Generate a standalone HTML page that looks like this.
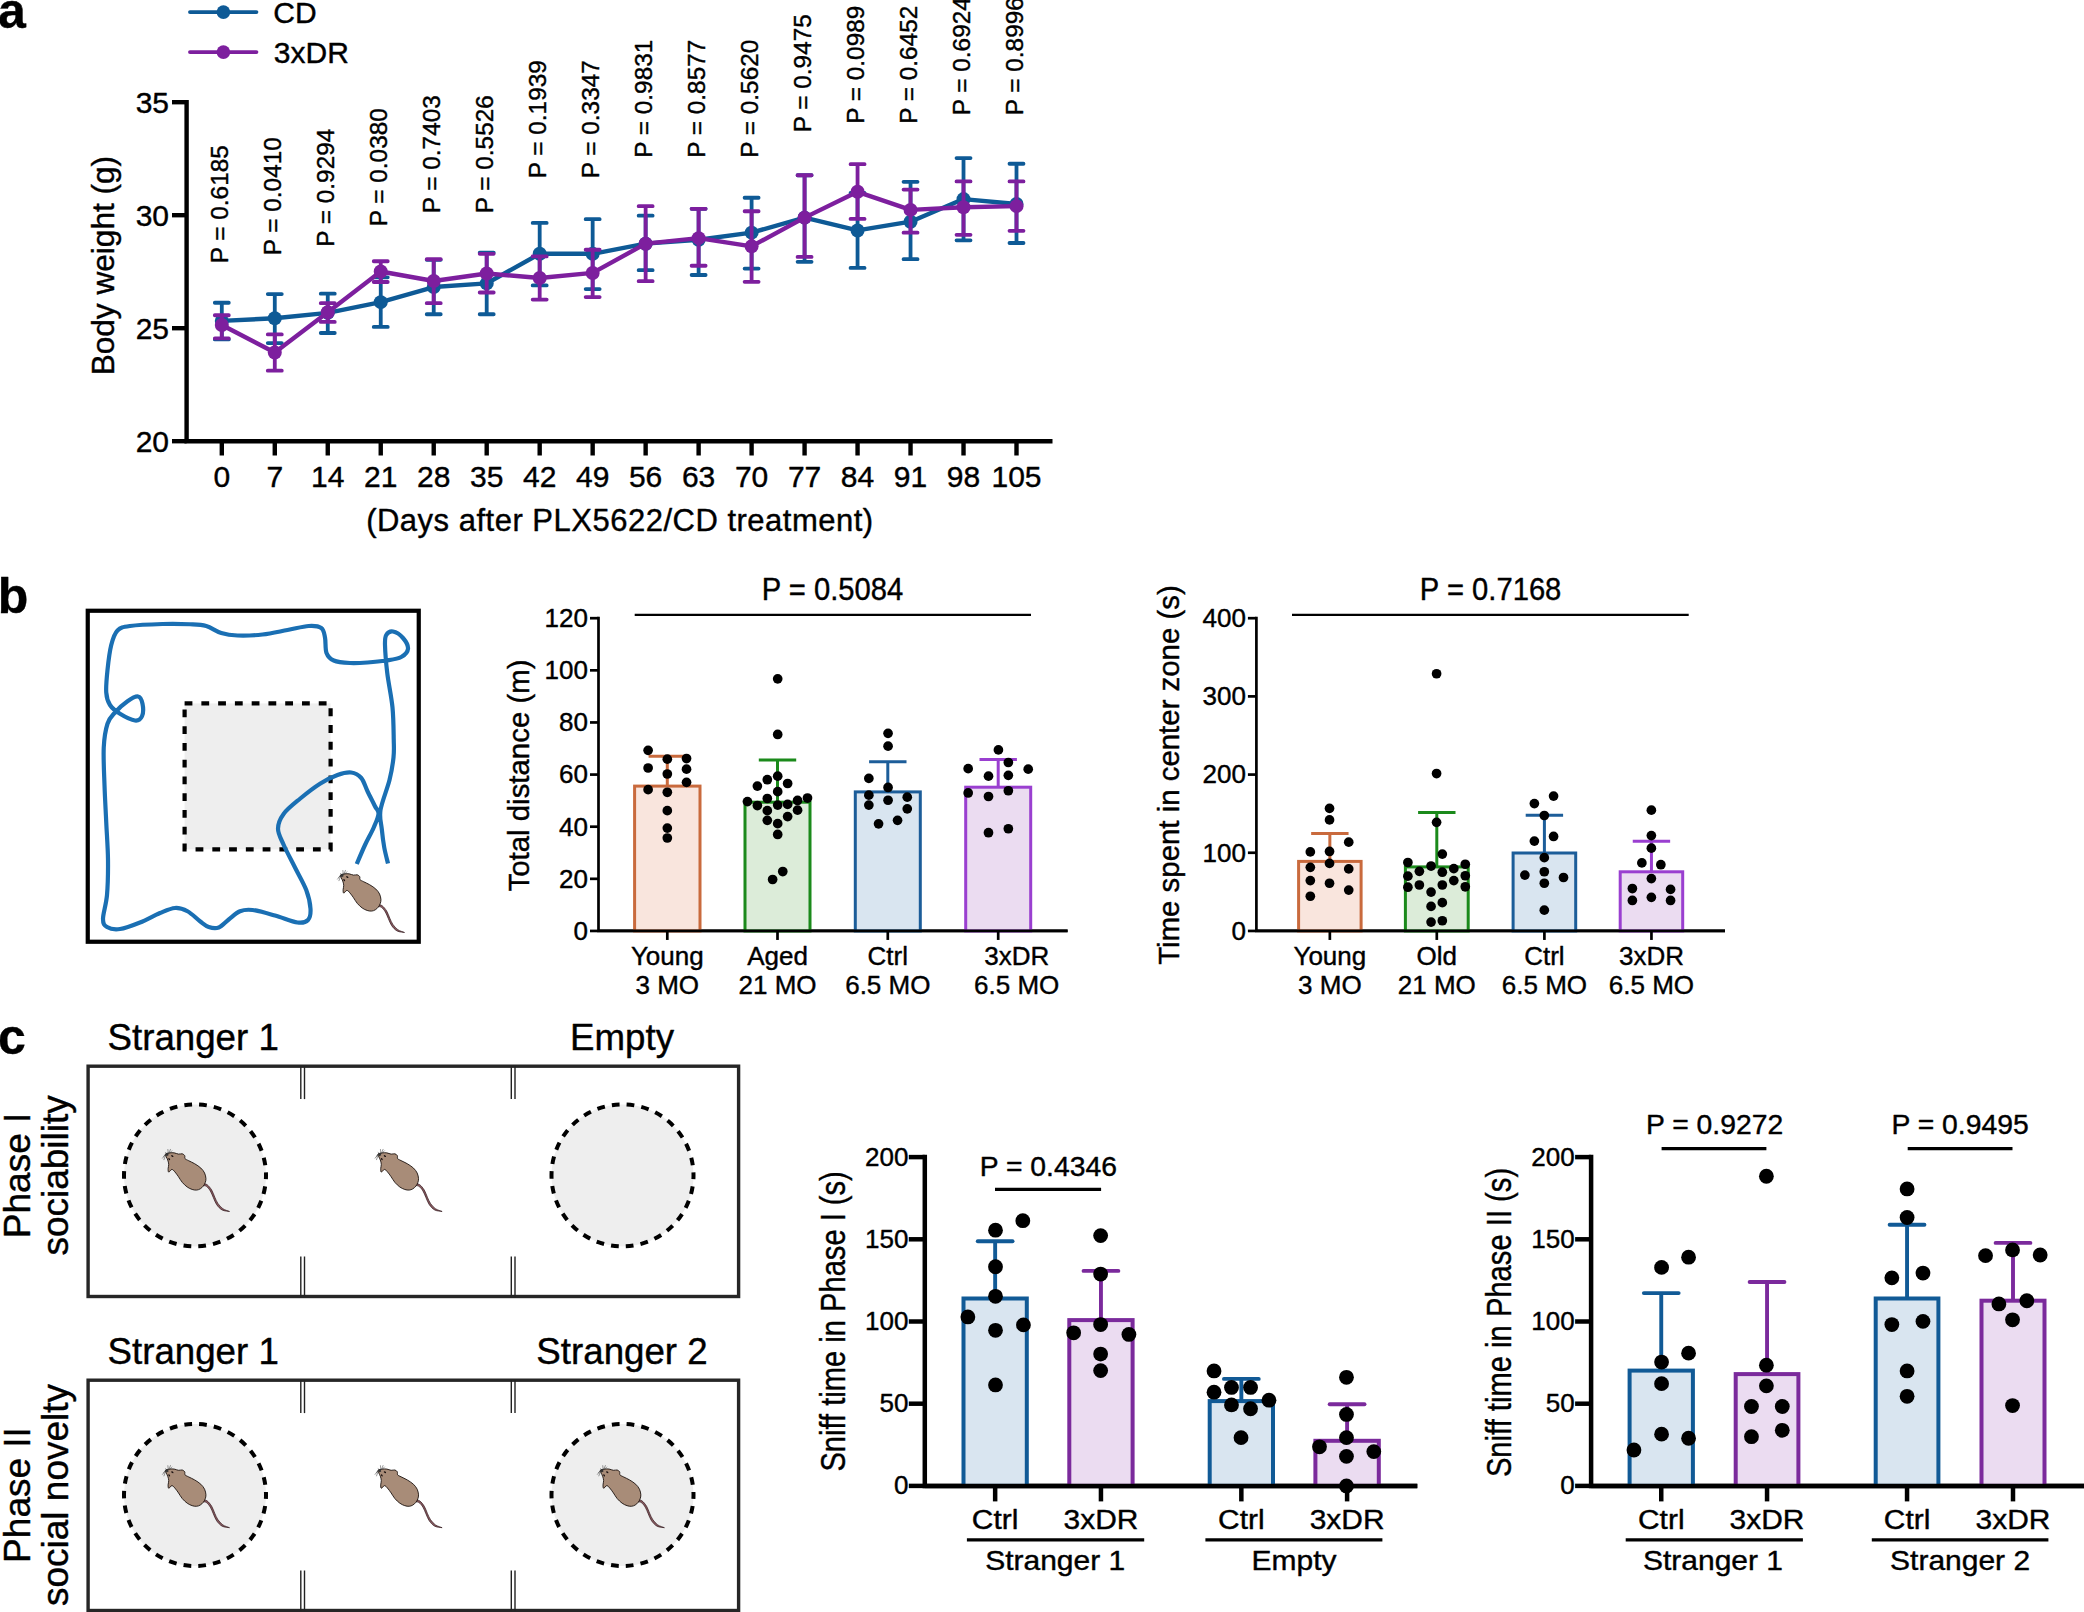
<!DOCTYPE html>
<html lang="en"><head><meta charset="utf-8"><title>Figure</title>
<style>html,body{margin:0;padding:0;background:#fff;}svg{display:block;}text{font-family:"Liberation Sans",sans-serif;stroke:#000;stroke-width:0.4px;stroke-linejoin:round;}</style>
</head><body>
<svg width="2084" height="1612" viewBox="0 0 2084 1612">
<rect x="0" y="0" width="2084" height="1612" fill="#ffffff"/>
<text x="-2.10" y="27.80" font-size="50" text-anchor="start" font-weight="bold" fill="#000">a</text>
<text x="-2.20" y="613.20" font-size="50" text-anchor="start" font-weight="bold" fill="#000">b</text>
<text x="-2.00" y="1054.40" font-size="50" text-anchor="start" font-weight="bold" fill="#000">c</text>
<path d="M186.60 100.00 V441.20 H1052.5" fill="none" stroke="#000" stroke-width="4.4" stroke-linejoin="miter"/>
<line x1="172.00" y1="102.20" x2="186.60" y2="102.20" stroke="#000" stroke-width="4.4" stroke-linecap="butt"/>
<text x="169.00" y="112.70" font-size="30" text-anchor="end" fill="#000">35</text>
<line x1="172.00" y1="215.20" x2="186.60" y2="215.20" stroke="#000" stroke-width="4.4" stroke-linecap="butt"/>
<text x="169.00" y="225.70" font-size="30" text-anchor="end" fill="#000">30</text>
<line x1="172.00" y1="328.20" x2="186.60" y2="328.20" stroke="#000" stroke-width="4.4" stroke-linecap="butt"/>
<text x="169.00" y="338.70" font-size="30" text-anchor="end" fill="#000">25</text>
<line x1="172.00" y1="441.20" x2="186.60" y2="441.20" stroke="#000" stroke-width="4.4" stroke-linecap="butt"/>
<text x="169.00" y="451.70" font-size="30" text-anchor="end" fill="#000">20</text>
<line x1="221.80" y1="441.20" x2="221.80" y2="455.50" stroke="#000" stroke-width="4.4" stroke-linecap="butt"/>
<text x="221.80" y="487.20" font-size="30" text-anchor="middle" fill="#000">0</text>
<line x1="274.78" y1="441.20" x2="274.78" y2="455.50" stroke="#000" stroke-width="4.4" stroke-linecap="butt"/>
<text x="274.78" y="487.20" font-size="30" text-anchor="middle" fill="#000">7</text>
<line x1="327.76" y1="441.20" x2="327.76" y2="455.50" stroke="#000" stroke-width="4.4" stroke-linecap="butt"/>
<text x="327.76" y="487.20" font-size="30" text-anchor="middle" fill="#000">14</text>
<line x1="380.74" y1="441.20" x2="380.74" y2="455.50" stroke="#000" stroke-width="4.4" stroke-linecap="butt"/>
<text x="380.74" y="487.20" font-size="30" text-anchor="middle" fill="#000">21</text>
<line x1="433.72" y1="441.20" x2="433.72" y2="455.50" stroke="#000" stroke-width="4.4" stroke-linecap="butt"/>
<text x="433.72" y="487.20" font-size="30" text-anchor="middle" fill="#000">28</text>
<line x1="486.70" y1="441.20" x2="486.70" y2="455.50" stroke="#000" stroke-width="4.4" stroke-linecap="butt"/>
<text x="486.70" y="487.20" font-size="30" text-anchor="middle" fill="#000">35</text>
<line x1="539.68" y1="441.20" x2="539.68" y2="455.50" stroke="#000" stroke-width="4.4" stroke-linecap="butt"/>
<text x="539.68" y="487.20" font-size="30" text-anchor="middle" fill="#000">42</text>
<line x1="592.66" y1="441.20" x2="592.66" y2="455.50" stroke="#000" stroke-width="4.4" stroke-linecap="butt"/>
<text x="592.66" y="487.20" font-size="30" text-anchor="middle" fill="#000">49</text>
<line x1="645.64" y1="441.20" x2="645.64" y2="455.50" stroke="#000" stroke-width="4.4" stroke-linecap="butt"/>
<text x="645.64" y="487.20" font-size="30" text-anchor="middle" fill="#000">56</text>
<line x1="698.62" y1="441.20" x2="698.62" y2="455.50" stroke="#000" stroke-width="4.4" stroke-linecap="butt"/>
<text x="698.62" y="487.20" font-size="30" text-anchor="middle" fill="#000">63</text>
<line x1="751.60" y1="441.20" x2="751.60" y2="455.50" stroke="#000" stroke-width="4.4" stroke-linecap="butt"/>
<text x="751.60" y="487.20" font-size="30" text-anchor="middle" fill="#000">70</text>
<line x1="804.58" y1="441.20" x2="804.58" y2="455.50" stroke="#000" stroke-width="4.4" stroke-linecap="butt"/>
<text x="804.58" y="487.20" font-size="30" text-anchor="middle" fill="#000">77</text>
<line x1="857.56" y1="441.20" x2="857.56" y2="455.50" stroke="#000" stroke-width="4.4" stroke-linecap="butt"/>
<text x="857.56" y="487.20" font-size="30" text-anchor="middle" fill="#000">84</text>
<line x1="910.54" y1="441.20" x2="910.54" y2="455.50" stroke="#000" stroke-width="4.4" stroke-linecap="butt"/>
<text x="910.54" y="487.20" font-size="30" text-anchor="middle" fill="#000">91</text>
<line x1="963.52" y1="441.20" x2="963.52" y2="455.50" stroke="#000" stroke-width="4.4" stroke-linecap="butt"/>
<text x="963.52" y="487.20" font-size="30" text-anchor="middle" fill="#000">98</text>
<line x1="1016.50" y1="441.20" x2="1016.50" y2="455.50" stroke="#000" stroke-width="4.4" stroke-linecap="butt"/>
<text x="1016.50" y="487.20" font-size="30" text-anchor="middle" fill="#000">105</text>
<text x="619.90" y="531.30" font-size="31" text-anchor="middle" fill="#000" letter-spacing="0.5">(Days after PLX5622/CD treatment)</text>
<text x="114.50" y="265.60" font-size="31.6" text-anchor="middle" fill="#000" transform="rotate(-90 114.50 265.60)">Body weight (g)</text>
<line x1="190.00" y1="12.10" x2="256.40" y2="12.10" stroke="#0e5a96" stroke-width="3.9" stroke-linecap="round"/>
<circle cx="223.40" cy="12.10" r="6.8" fill="#0e5a96"/>
<line x1="190.00" y1="52.10" x2="256.40" y2="52.10" stroke="#7d1f9e" stroke-width="3.9" stroke-linecap="round"/>
<circle cx="223.40" cy="52.10" r="6.8" fill="#7d1f9e"/>
<text x="273.30" y="22.90" font-size="30" text-anchor="start" fill="#000">CD</text>
<text x="273.80" y="63.40" font-size="30" text-anchor="start" fill="#000">3xDR</text>
<path d="M221.80 302.76V339.44M214.80 302.76h14M214.80 339.44h14M274.78 294.10V343.07M267.78 294.10h14M267.78 343.07h14M327.76 293.69V332.99M320.76 293.69h14M320.76 332.99h14M380.74 277.37V326.94M373.74 277.37h14M373.74 326.94h14M433.72 259.83V314.25M426.72 259.83h14M426.72 314.25h14M486.70 252.58V314.25M479.70 252.58h14M479.70 314.25h14M539.68 222.95V285.43M532.68 222.95h14M532.68 285.43h14M592.66 219.13V289.06M585.66 219.13h14M585.66 289.06h14M645.64 215.64V270.16M638.64 215.64h14M638.64 270.16h14M698.62 208.80V275.02M691.62 208.80h14M691.62 275.02h14M751.60 197.76V268.62M744.60 197.76h14M744.60 268.62h14M804.58 175.25V261.78M797.58 175.25h14M797.58 261.78h14M857.56 192.91V267.96M850.56 192.91h14M850.56 267.96h14M910.54 181.87V259.13M903.54 181.87h14M903.54 259.13h14M963.52 158.03V240.37M956.52 158.03h14M956.52 240.37h14M1016.50 163.77V243.01M1009.50 163.77h14M1009.50 243.01h14" fill="none" stroke="#0e5a96" stroke-width="3.8" stroke-linecap="round"/>
<polyline points="221.80,320.90 274.78,318.28 327.76,312.84 380.74,302.16 433.72,287.04 486.70,283.41 539.68,253.79 592.66,253.79 645.64,243.68 698.62,239.70 751.60,232.64 804.58,217.63 857.56,230.43 910.54,221.69 963.52,199.09 1016.50,203.94" fill="none" stroke="#0e5a96" stroke-width="4.4" stroke-linejoin="round"/>
<circle cx="221.80" cy="320.90" r="7" fill="#0e5a96"/>
<circle cx="274.78" cy="318.28" r="7" fill="#0e5a96"/>
<circle cx="327.76" cy="312.84" r="7" fill="#0e5a96"/>
<circle cx="380.74" cy="302.16" r="7" fill="#0e5a96"/>
<circle cx="433.72" cy="287.04" r="7" fill="#0e5a96"/>
<circle cx="486.70" cy="283.41" r="7" fill="#0e5a96"/>
<circle cx="539.68" cy="253.79" r="7" fill="#0e5a96"/>
<circle cx="592.66" cy="253.79" r="7" fill="#0e5a96"/>
<circle cx="645.64" cy="243.68" r="7" fill="#0e5a96"/>
<circle cx="698.62" cy="239.70" r="7" fill="#0e5a96"/>
<circle cx="751.60" cy="232.64" r="7" fill="#0e5a96"/>
<circle cx="804.58" cy="217.63" r="7" fill="#0e5a96"/>
<circle cx="857.56" cy="230.43" r="7" fill="#0e5a96"/>
<circle cx="910.54" cy="221.69" r="7" fill="#0e5a96"/>
<circle cx="963.52" cy="199.09" r="7" fill="#0e5a96"/>
<circle cx="1016.50" cy="203.94" r="7" fill="#0e5a96"/>
<path d="M221.80 315.26V338.43M214.80 315.26h14M214.80 338.43h14M274.78 334.40V370.68M267.78 334.40h14M267.78 370.68h14M327.76 303.16V321.91M320.76 303.16h14M320.76 321.91h14M380.74 261.25V282.00M373.74 261.25h14M373.74 282.00h14M433.72 259.23V303.16M426.72 259.23h14M426.72 303.16h14M486.70 253.79V292.48M479.70 253.79h14M479.70 292.48h14M539.68 256.41V299.54M532.68 256.41h14M532.68 299.54h14M592.66 249.76V297.12M585.66 249.76h14M585.66 297.12h14M645.64 206.15V281.20M638.64 206.15h14M638.64 281.20h14M698.62 208.80V265.75M691.62 208.80h14M691.62 265.75h14M751.60 211.23V281.86M744.60 211.23h14M744.60 281.86h14M804.58 175.25V256.92M797.58 175.25h14M797.58 256.92h14M857.56 164.21V218.95M850.56 164.21h14M850.56 218.95h14M910.54 189.60V232.64M903.54 189.60h14M903.54 232.64h14M963.52 181.43V234.85M956.52 181.43h14M956.52 234.85h14M1016.50 181.43V230.87M1009.50 181.43h14M1009.50 230.87h14" fill="none" stroke="#7d1f9e" stroke-width="3.8" stroke-linecap="round"/>
<polyline points="221.80,324.93 274.78,352.54 327.76,312.23 380.74,271.52 433.72,281.00 486.70,273.54 539.68,277.97 592.66,272.93 645.64,243.68 698.62,238.16 751.60,246.33 804.58,217.63 857.56,191.80 910.54,209.90 963.52,207.26 1016.50,206.15" fill="none" stroke="#7d1f9e" stroke-width="4.4" stroke-linejoin="round"/>
<circle cx="221.80" cy="324.93" r="7" fill="#7d1f9e"/>
<circle cx="274.78" cy="352.54" r="7" fill="#7d1f9e"/>
<circle cx="327.76" cy="312.23" r="7" fill="#7d1f9e"/>
<circle cx="380.74" cy="271.52" r="7" fill="#7d1f9e"/>
<circle cx="433.72" cy="281.00" r="7" fill="#7d1f9e"/>
<circle cx="486.70" cy="273.54" r="7" fill="#7d1f9e"/>
<circle cx="539.68" cy="277.97" r="7" fill="#7d1f9e"/>
<circle cx="592.66" cy="272.93" r="7" fill="#7d1f9e"/>
<circle cx="645.64" cy="243.68" r="7" fill="#7d1f9e"/>
<circle cx="698.62" cy="238.16" r="7" fill="#7d1f9e"/>
<circle cx="751.60" cy="246.33" r="7" fill="#7d1f9e"/>
<circle cx="804.58" cy="217.63" r="7" fill="#7d1f9e"/>
<circle cx="857.56" cy="191.80" r="7" fill="#7d1f9e"/>
<circle cx="910.54" cy="209.90" r="7" fill="#7d1f9e"/>
<circle cx="963.52" cy="207.26" r="7" fill="#7d1f9e"/>
<circle cx="1016.50" cy="206.15" r="7" fill="#7d1f9e"/>
<text x="228.10" y="263.35" font-size="24.4" text-anchor="start" fill="#000" transform="rotate(-90 228.10 263.35)">P = 0.6185</text>
<text x="281.08" y="255.35" font-size="24.4" text-anchor="start" fill="#000" transform="rotate(-90 281.08 255.35)">P = 0.0410</text>
<text x="334.06" y="246.85" font-size="24.4" text-anchor="start" fill="#000" transform="rotate(-90 334.06 246.85)">P = 0.9294</text>
<text x="387.04" y="226.35" font-size="24.4" text-anchor="start" fill="#000" transform="rotate(-90 387.04 226.35)">P = 0.0380</text>
<text x="440.02" y="213.35" font-size="24.4" text-anchor="start" fill="#000" transform="rotate(-90 440.02 213.35)">P = 0.7403</text>
<text x="493.00" y="213.35" font-size="24.4" text-anchor="start" fill="#000" transform="rotate(-90 493.00 213.35)">P = 0.5526</text>
<text x="545.98" y="178.35" font-size="24.4" text-anchor="start" fill="#000" transform="rotate(-90 545.98 178.35)">P = 0.1939</text>
<text x="598.96" y="178.35" font-size="24.4" text-anchor="start" fill="#000" transform="rotate(-90 598.96 178.35)">P = 0.3347</text>
<text x="651.94" y="157.85" font-size="24.4" text-anchor="start" fill="#000" transform="rotate(-90 651.94 157.85)">P = 0.9831</text>
<text x="704.92" y="157.85" font-size="24.4" text-anchor="start" fill="#000" transform="rotate(-90 704.92 157.85)">P = 0.8577</text>
<text x="757.90" y="157.85" font-size="24.4" text-anchor="start" fill="#000" transform="rotate(-90 757.90 157.85)">P = 0.5620</text>
<text x="810.88" y="132.35" font-size="24.4" text-anchor="start" fill="#000" transform="rotate(-90 810.88 132.35)">P = 0.9475</text>
<text x="863.86" y="123.85" font-size="24.4" text-anchor="start" fill="#000" transform="rotate(-90 863.86 123.85)">P = 0.0989</text>
<text x="916.84" y="123.85" font-size="24.4" text-anchor="start" fill="#000" transform="rotate(-90 916.84 123.85)">P = 0.6452</text>
<text x="969.82" y="115.35" font-size="24.4" text-anchor="start" fill="#000" transform="rotate(-90 969.82 115.35)">P = 0.6924</text>
<text x="1022.80" y="115.35" font-size="24.4" text-anchor="start" fill="#000" transform="rotate(-90 1022.80 115.35)">P = 0.8996</text>
<rect x="87.75" y="610.75" width="331.00" height="331.00" fill="#fff" stroke="#000" stroke-width="4.2"/>
<rect x="184.60" y="703.40" width="146.00" height="146.00" fill="#eeeeee" stroke="#000" stroke-width="4.2" stroke-dasharray="7.8 8.97" stroke-dashoffset="0"/>
<path d="M388.00 863.50C387.38 860.83 385.29 853.29 384.25 847.50C383.21 841.71 382.38 835.00 381.75 828.75C381.12 822.50 379.21 818.12 380.50 810.00C381.79 801.88 387.33 788.75 389.50 780.00C391.67 771.25 392.79 764.17 393.50 757.50C394.21 750.83 393.92 748.33 393.75 740.00C393.58 731.67 393.58 718.67 392.50 707.50C391.42 696.33 388.50 683.42 387.25 673.00C386.00 662.58 385.17 651.33 385.00 645.00C384.83 638.67 384.92 637.25 386.25 635.00C387.58 632.75 390.21 631.00 393.00 631.50C395.79 632.00 400.50 635.12 403.00 638.00C405.50 640.88 408.29 645.58 408.00 648.75C407.71 651.92 404.88 655.04 401.25 657.00C397.62 658.96 391.88 659.58 386.25 660.50C380.62 661.42 373.54 662.08 367.50 662.50C361.46 662.92 355.62 663.33 350.00 663.00C344.38 662.67 337.67 662.17 333.75 660.50C329.83 658.83 327.96 656.83 326.50 653.00C325.04 649.17 325.88 641.67 325.00 637.50C324.12 633.33 323.96 629.92 321.25 628.00C318.54 626.08 314.38 625.67 308.75 626.00C303.12 626.33 295.21 628.58 287.50 630.00C279.79 631.42 270.83 633.58 262.50 634.50C254.17 635.42 244.38 635.75 237.50 635.50C230.62 635.25 226.46 634.58 221.25 633.00C216.04 631.42 211.46 627.46 206.25 626.00C201.04 624.54 197.29 624.58 190.00 624.25C182.71 623.92 172.50 623.71 162.50 624.00C152.50 624.29 137.50 624.92 130.00 626.00C122.50 627.08 120.62 627.33 117.50 630.50C114.38 633.67 112.92 638.42 111.25 645.00C109.58 651.58 108.33 662.08 107.50 670.00C106.67 677.92 105.83 686.67 106.25 692.50C106.67 698.33 107.71 701.46 110.00 705.00C112.29 708.54 115.83 711.17 120.00 713.75C124.17 716.33 131.33 720.08 135.00 720.50C138.67 720.92 140.75 719.04 142.00 716.25C143.25 713.46 143.17 707.04 142.50 703.75C141.83 700.46 140.50 696.92 138.00 696.50C135.50 696.08 131.33 698.58 127.50 701.25C123.67 703.92 118.33 708.75 115.00 712.50C111.67 716.25 109.38 717.92 107.50 723.75C105.62 729.58 104.25 737.29 103.75 747.50C103.25 757.71 104.08 772.50 104.50 785.00C104.92 797.50 105.67 810.00 106.25 822.50C106.83 835.00 107.88 847.92 108.00 860.00C108.12 872.08 107.83 885.21 107.00 895.00C106.17 904.79 103.00 913.42 103.00 918.75C103.00 924.08 104.17 925.29 107.00 927.00C109.83 928.71 114.50 929.75 120.00 929.00C125.50 928.25 133.33 925.17 140.00 922.50C146.67 919.83 154.17 915.42 160.00 913.00C165.83 910.58 170.42 908.29 175.00 908.00C179.58 907.71 183.33 909.04 187.50 911.25C191.67 913.46 196.46 918.62 200.00 921.25C203.54 923.88 205.62 925.96 208.75 927.00C211.88 928.04 215.42 928.75 218.75 927.50C222.08 926.25 225.21 922.21 228.75 919.50C232.29 916.79 236.04 912.83 240.00 911.25C243.96 909.67 246.67 909.29 252.50 910.00C258.33 910.71 267.50 913.42 275.00 915.50C282.50 917.58 292.00 921.75 297.50 922.50C303.00 923.25 305.83 922.29 308.00 920.00C310.17 917.71 310.79 913.75 310.50 908.75C310.21 903.75 308.83 896.88 306.25 890.00C303.67 883.12 298.75 875.00 295.00 867.50C291.25 860.00 286.58 851.46 283.75 845.00C280.92 838.54 278.00 833.96 278.00 828.75C278.00 823.54 280.08 818.75 283.75 813.75C287.42 808.75 293.96 803.75 300.00 798.75C306.04 793.75 313.75 787.71 320.00 783.75C326.25 779.79 332.29 776.88 337.50 775.00C342.71 773.12 347.29 772.00 351.25 772.50C355.21 773.00 358.54 774.88 361.25 778.00C363.96 781.12 365.21 786.54 367.50 791.25C369.79 795.96 373.17 802.50 375.00 806.25C376.83 810.00 378.71 810.21 378.50 813.75C378.29 817.29 376.00 822.29 373.75 827.50C371.50 832.71 367.83 838.92 365.00 845.00C362.17 851.08 358.12 860.83 356.75 864.00" fill="none" stroke="#1a6fb3" stroke-width="4.2" stroke-linejoin="round"/>
<g transform="translate(340.50 874.80) scale(0.06203) translate(-330 -400)">
<path d="M925.00 880.00C937.50 882.83 975.00 879.50 1000.00 897.00C1025.00 914.50 1054.17 951.17 1075.00 985.00C1095.83 1018.83 1108.33 1064.17 1125.00 1100.00C1141.67 1135.83 1153.33 1169.17 1175.00 1200.00C1196.67 1230.83 1223.83 1263.33 1255.00 1285.00C1286.17 1306.67 1344.17 1322.50 1362.00 1330.00L1362.00 1330.00C1342.17 1326.00 1277.50 1324.33 1243.00 1306.00C1208.50 1287.67 1178.50 1253.00 1155.00 1220.00C1131.50 1187.00 1119.17 1145.00 1102.00 1108.00C1084.83 1071.00 1070.67 1028.50 1052.00 998.00C1033.33 967.50 1009.50 939.33 990.00 925.00C970.50 910.67 944.17 914.17 935.00 912.00Z" fill="#8a5a60" stroke="#2a1014" stroke-width="11" stroke-linejoin="round"/>
<path d="M330.00 405.00C339.67 394.17 376.67 388.33 400.00 385.00C423.33 381.67 446.67 381.67 470.00 385.00C493.33 388.33 518.33 402.50 540.00 405.00C561.67 407.50 583.33 395.83 600.00 400.00C616.67 404.17 632.50 417.00 640.00 430.00C647.50 443.00 635.00 464.67 645.00 478.00C655.00 491.33 674.17 496.33 700.00 510.00C725.83 523.67 766.67 540.00 800.00 560.00C833.33 580.00 873.33 605.00 900.00 630.00C926.67 655.00 946.33 681.67 960.00 710.00C973.67 738.33 980.33 774.17 982.00 800.00C983.67 825.83 977.00 845.00 970.00 865.00C963.00 885.00 953.33 903.33 940.00 920.00C926.67 936.67 908.33 954.17 890.00 965.00C871.67 975.83 851.67 983.33 830.00 985.00C808.33 986.67 785.00 983.33 760.00 975.00C735.00 966.67 706.67 954.17 680.00 935.00C653.33 915.83 623.33 887.50 600.00 860.00C576.67 832.50 560.00 798.33 540.00 770.00C520.00 741.67 498.00 709.67 480.00 690.00C462.00 670.33 448.33 651.17 432.00 652.00C415.67 652.83 392.00 697.00 382.00 695.00C372.00 693.00 372.00 660.83 372.00 640.00C372.00 619.17 383.00 593.33 382.00 570.00C381.00 546.67 372.67 520.00 366.00 500.00C359.33 480.00 348.00 465.83 342.00 450.00C336.00 434.17 320.33 415.83 330.00 405.00Z" fill="#a88c78" stroke="#150c08" stroke-width="14" stroke-linejoin="round"/>
<ellipse cx="440" cy="436" rx="21" ry="12" transform="rotate(35 440 436)" fill="#1a1010"/>
<ellipse cx="390" cy="486" rx="20" ry="12" transform="rotate(60 390 486)" fill="#1a1010"/>
<path d="M335 405L282 470M335 410L305 495M345 400L300 440M375 392L368 330M385 390L410 328M392 392L432 352M350 395L330 380" fill="none" stroke="#333" stroke-width="8" stroke-linecap="round"/>
<path d="M330 395l40 -10l10 40l-35 15z" fill="#333"/>
</g>
<path d="M598.50 616.85V930.95H1067.60" fill="none" stroke="#000" stroke-width="2.7"/>
<line x1="590.00" y1="618.20" x2="598.50" y2="618.20" stroke="#000" stroke-width="2.7" stroke-linecap="butt"/>
<text x="588.00" y="627.00" font-size="26" text-anchor="end" fill="#000">120</text>
<line x1="590.00" y1="670.33" x2="598.50" y2="670.33" stroke="#000" stroke-width="2.7" stroke-linecap="butt"/>
<text x="588.00" y="679.12" font-size="26" text-anchor="end" fill="#000">100</text>
<line x1="590.00" y1="722.45" x2="598.50" y2="722.45" stroke="#000" stroke-width="2.7" stroke-linecap="butt"/>
<text x="588.00" y="731.25" font-size="26" text-anchor="end" fill="#000">80</text>
<line x1="590.00" y1="774.58" x2="598.50" y2="774.58" stroke="#000" stroke-width="2.7" stroke-linecap="butt"/>
<text x="588.00" y="783.38" font-size="26" text-anchor="end" fill="#000">60</text>
<line x1="590.00" y1="826.70" x2="598.50" y2="826.70" stroke="#000" stroke-width="2.7" stroke-linecap="butt"/>
<text x="588.00" y="835.50" font-size="26" text-anchor="end" fill="#000">40</text>
<line x1="590.00" y1="878.83" x2="598.50" y2="878.83" stroke="#000" stroke-width="2.7" stroke-linecap="butt"/>
<text x="588.00" y="887.62" font-size="26" text-anchor="end" fill="#000">20</text>
<line x1="590.00" y1="930.95" x2="598.50" y2="930.95" stroke="#000" stroke-width="2.7" stroke-linecap="butt"/>
<text x="588.00" y="939.75" font-size="26" text-anchor="end" fill="#000">0</text>
<line x1="667.30" y1="756.30" x2="667.30" y2="786.10" stroke="#c96a3d" stroke-width="3.0" stroke-linecap="butt"/>
<line x1="648.60" y1="756.30" x2="686.00" y2="756.30" stroke="#c96a3d" stroke-width="3.0" stroke-linecap="butt"/>
<rect x="634.60" y="786.10" width="65.40" height="144.85" fill="#f9e5dd" stroke="#c96a3d" stroke-width="3.0"/>
<line x1="667.30" y1="930.95" x2="667.30" y2="939.95" stroke="#000" stroke-width="2.7" stroke-linecap="butt"/>
<line x1="777.50" y1="759.90" x2="777.50" y2="802.20" stroke="#1b8a1b" stroke-width="3.0" stroke-linecap="butt"/>
<line x1="758.80" y1="759.90" x2="796.20" y2="759.90" stroke="#1b8a1b" stroke-width="3.0" stroke-linecap="butt"/>
<rect x="745.00" y="802.20" width="65.00" height="128.75" fill="#dcecd9" stroke="#1b8a1b" stroke-width="3.0"/>
<line x1="777.50" y1="930.95" x2="777.50" y2="939.95" stroke="#000" stroke-width="2.7" stroke-linecap="butt"/>
<line x1="887.80" y1="761.80" x2="887.80" y2="791.90" stroke="#1c5d99" stroke-width="3.0" stroke-linecap="butt"/>
<line x1="869.10" y1="761.80" x2="906.50" y2="761.80" stroke="#1c5d99" stroke-width="3.0" stroke-linecap="butt"/>
<rect x="855.30" y="791.90" width="65.00" height="139.05" fill="#d9e5f0" stroke="#1c5d99" stroke-width="3.0"/>
<line x1="887.80" y1="930.95" x2="887.80" y2="939.95" stroke="#000" stroke-width="2.7" stroke-linecap="butt"/>
<line x1="998.20" y1="759.60" x2="998.20" y2="787.20" stroke="#9a3fd0" stroke-width="3.0" stroke-linecap="butt"/>
<line x1="979.50" y1="759.60" x2="1016.90" y2="759.60" stroke="#9a3fd0" stroke-width="3.0" stroke-linecap="butt"/>
<rect x="965.70" y="787.20" width="65.00" height="143.75" fill="#ebdcf1" stroke="#9a3fd0" stroke-width="3.0"/>
<line x1="998.20" y1="930.95" x2="998.20" y2="939.95" stroke="#000" stroke-width="2.7" stroke-linecap="butt"/>
<line x1="598.50" y1="930.95" x2="1067.60" y2="930.95" stroke="#000" stroke-width="2.7" stroke-linecap="butt"/>
<circle cx="648.12" cy="750.37" r="4.85" fill="#000"/>
<circle cx="667.32" cy="759.19" r="4.85" fill="#000"/>
<circle cx="686.53" cy="758.53" r="4.85" fill="#000"/>
<circle cx="648.12" cy="768.02" r="4.85" fill="#000"/>
<circle cx="686.53" cy="769.13" r="4.85" fill="#000"/>
<circle cx="667.32" cy="773.98" r="4.85" fill="#000"/>
<circle cx="686.53" cy="782.37" r="4.85" fill="#000"/>
<circle cx="648.12" cy="789.66" r="4.85" fill="#000"/>
<circle cx="667.32" cy="792.30" r="4.85" fill="#000"/>
<circle cx="667.32" cy="810.63" r="4.85" fill="#000"/>
<circle cx="667.32" cy="828.06" r="4.85" fill="#000"/>
<circle cx="667.32" cy="838.00" r="4.85" fill="#000"/>
<circle cx="777.69" cy="678.85" r="4.85" fill="#000"/>
<circle cx="777.69" cy="734.47" r="4.85" fill="#000"/>
<circle cx="777.69" cy="776.19" r="4.85" fill="#000"/>
<circle cx="767.31" cy="779.72" r="4.85" fill="#000"/>
<circle cx="787.62" cy="783.48" r="4.85" fill="#000"/>
<circle cx="757.38" cy="786.12" r="4.85" fill="#000"/>
<circle cx="777.69" cy="791.64" r="4.85" fill="#000"/>
<circle cx="767.31" cy="798.48" r="4.85" fill="#000"/>
<circle cx="807.49" cy="798.04" r="4.85" fill="#000"/>
<circle cx="797.55" cy="800.47" r="4.85" fill="#000"/>
<circle cx="747.45" cy="801.58" r="4.85" fill="#000"/>
<circle cx="757.38" cy="805.55" r="4.85" fill="#000"/>
<circle cx="777.69" cy="805.11" r="4.85" fill="#000"/>
<circle cx="787.62" cy="804.44" r="4.85" fill="#000"/>
<circle cx="767.31" cy="810.63" r="4.85" fill="#000"/>
<circle cx="797.55" cy="810.18" r="4.85" fill="#000"/>
<circle cx="787.62" cy="816.58" r="4.85" fill="#000"/>
<circle cx="767.31" cy="820.34" r="4.85" fill="#000"/>
<circle cx="777.69" cy="823.65" r="4.85" fill="#000"/>
<circle cx="777.69" cy="834.46" r="4.85" fill="#000"/>
<circle cx="782.77" cy="871.55" r="4.85" fill="#000"/>
<circle cx="772.61" cy="879.49" r="4.85" fill="#000"/>
<circle cx="888.05" cy="733.37" r="4.85" fill="#000"/>
<circle cx="888.05" cy="746.17" r="4.85" fill="#000"/>
<circle cx="868.85" cy="778.40" r="4.85" fill="#000"/>
<circle cx="888.05" cy="787.45" r="4.85" fill="#000"/>
<circle cx="868.85" cy="795.17" r="4.85" fill="#000"/>
<circle cx="907.26" cy="797.16" r="4.85" fill="#000"/>
<circle cx="888.05" cy="800.25" r="4.85" fill="#000"/>
<circle cx="868.85" cy="805.11" r="4.85" fill="#000"/>
<circle cx="907.26" cy="808.86" r="4.85" fill="#000"/>
<circle cx="897.55" cy="820.34" r="4.85" fill="#000"/>
<circle cx="878.56" cy="823.87" r="4.85" fill="#000"/>
<circle cx="998.42" cy="749.92" r="4.85" fill="#000"/>
<circle cx="1008.35" cy="762.51" r="4.85" fill="#000"/>
<circle cx="968.18" cy="768.69" r="4.85" fill="#000"/>
<circle cx="1028.22" cy="769.13" r="4.85" fill="#000"/>
<circle cx="1008.35" cy="775.31" r="4.85" fill="#000"/>
<circle cx="988.49" cy="776.19" r="4.85" fill="#000"/>
<circle cx="1008.35" cy="790.76" r="4.85" fill="#000"/>
<circle cx="968.18" cy="792.97" r="4.85" fill="#000"/>
<circle cx="988.49" cy="796.50" r="4.85" fill="#000"/>
<circle cx="1008.35" cy="828.73" r="4.85" fill="#000"/>
<circle cx="988.49" cy="832.70" r="4.85" fill="#000"/>
<text x="667.30" y="964.60" font-size="26" text-anchor="middle" fill="#000">Young</text>
<text x="667.30" y="993.60" font-size="26" text-anchor="middle" fill="#000">3 MO</text>
<text x="777.50" y="964.60" font-size="26" text-anchor="middle" fill="#000">Aged</text>
<text x="777.50" y="993.60" font-size="26" text-anchor="middle" fill="#000">21 MO</text>
<text x="887.80" y="964.60" font-size="26" text-anchor="middle" fill="#000">Ctrl</text>
<text x="887.80" y="993.60" font-size="26" text-anchor="middle" fill="#000">6.5 MO</text>
<text x="1016.70" y="964.60" font-size="26" text-anchor="middle" fill="#000">3xDR</text>
<text x="1016.70" y="993.60" font-size="26" text-anchor="middle" fill="#000">6.5 MO</text>
<text x="528.70" y="775.50" font-size="29.4" text-anchor="middle" fill="#000" transform="rotate(-90 528.70 775.50)">Total distance (m)</text>
<text transform="translate(832.50 600.20) scale(0.93 1)" x="0" y="0" font-size="31.4" text-anchor="middle" fill="#000">P = 0.5084</text>
<line x1="634.70" y1="614.90" x2="1031.00" y2="614.90" stroke="#000" stroke-width="2.2" stroke-linecap="butt"/>
<path d="M1256.40 616.85V930.95H1725.00" fill="none" stroke="#000" stroke-width="2.7"/>
<line x1="1247.90" y1="618.20" x2="1256.40" y2="618.20" stroke="#000" stroke-width="2.7" stroke-linecap="butt"/>
<text x="1245.90" y="627.00" font-size="26" text-anchor="end" fill="#000">400</text>
<line x1="1247.90" y1="696.39" x2="1256.40" y2="696.39" stroke="#000" stroke-width="2.7" stroke-linecap="butt"/>
<text x="1245.90" y="705.19" font-size="26" text-anchor="end" fill="#000">300</text>
<line x1="1247.90" y1="774.58" x2="1256.40" y2="774.58" stroke="#000" stroke-width="2.7" stroke-linecap="butt"/>
<text x="1245.90" y="783.38" font-size="26" text-anchor="end" fill="#000">200</text>
<line x1="1247.90" y1="852.76" x2="1256.40" y2="852.76" stroke="#000" stroke-width="2.7" stroke-linecap="butt"/>
<text x="1245.90" y="861.56" font-size="26" text-anchor="end" fill="#000">100</text>
<line x1="1247.90" y1="930.95" x2="1256.40" y2="930.95" stroke="#000" stroke-width="2.7" stroke-linecap="butt"/>
<text x="1245.90" y="939.75" font-size="26" text-anchor="end" fill="#000">0</text>
<line x1="1329.85" y1="833.60" x2="1329.85" y2="861.40" stroke="#c96a3d" stroke-width="3.0" stroke-linecap="butt"/>
<line x1="1311.15" y1="833.60" x2="1348.55" y2="833.60" stroke="#c96a3d" stroke-width="3.0" stroke-linecap="butt"/>
<rect x="1298.60" y="861.40" width="62.50" height="69.55" fill="#f9e5dd" stroke="#c96a3d" stroke-width="3.0"/>
<line x1="1329.85" y1="930.95" x2="1329.85" y2="939.95" stroke="#000" stroke-width="2.7" stroke-linecap="butt"/>
<line x1="1436.80" y1="812.60" x2="1436.80" y2="866.90" stroke="#1b8a1b" stroke-width="3.0" stroke-linecap="butt"/>
<line x1="1418.10" y1="812.60" x2="1455.50" y2="812.60" stroke="#1b8a1b" stroke-width="3.0" stroke-linecap="butt"/>
<rect x="1405.40" y="866.90" width="62.80" height="64.05" fill="#dcecd9" stroke="#1b8a1b" stroke-width="3.0"/>
<line x1="1436.80" y1="930.95" x2="1436.80" y2="939.95" stroke="#000" stroke-width="2.7" stroke-linecap="butt"/>
<line x1="1544.40" y1="815.30" x2="1544.40" y2="853.00" stroke="#1c5d99" stroke-width="3.0" stroke-linecap="butt"/>
<line x1="1525.70" y1="815.30" x2="1563.10" y2="815.30" stroke="#1c5d99" stroke-width="3.0" stroke-linecap="butt"/>
<rect x="1513.10" y="853.00" width="62.60" height="77.95" fill="#d9e5f0" stroke="#1c5d99" stroke-width="3.0"/>
<line x1="1544.40" y1="930.95" x2="1544.40" y2="939.95" stroke="#000" stroke-width="2.7" stroke-linecap="butt"/>
<line x1="1651.45" y1="841.30" x2="1651.45" y2="871.80" stroke="#9a3fd0" stroke-width="3.0" stroke-linecap="butt"/>
<line x1="1632.75" y1="841.30" x2="1670.15" y2="841.30" stroke="#9a3fd0" stroke-width="3.0" stroke-linecap="butt"/>
<rect x="1620.20" y="871.80" width="62.50" height="59.15" fill="#ebdcf1" stroke="#9a3fd0" stroke-width="3.0"/>
<line x1="1651.45" y1="930.95" x2="1651.45" y2="939.95" stroke="#000" stroke-width="2.7" stroke-linecap="butt"/>
<line x1="1256.40" y1="930.95" x2="1725.00" y2="930.95" stroke="#000" stroke-width="2.7" stroke-linecap="butt"/>
<circle cx="1329.53" cy="808.42" r="4.85" fill="#000"/>
<circle cx="1329.53" cy="819.90" r="4.85" fill="#000"/>
<circle cx="1348.73" cy="842.19" r="4.85" fill="#000"/>
<circle cx="1310.33" cy="851.90" r="4.85" fill="#000"/>
<circle cx="1329.53" cy="851.46" r="4.85" fill="#000"/>
<circle cx="1329.53" cy="863.38" r="4.85" fill="#000"/>
<circle cx="1310.33" cy="867.35" r="4.85" fill="#000"/>
<circle cx="1348.73" cy="868.90" r="4.85" fill="#000"/>
<circle cx="1310.33" cy="880.60" r="4.85" fill="#000"/>
<circle cx="1329.53" cy="883.25" r="4.85" fill="#000"/>
<circle cx="1348.73" cy="890.09" r="4.85" fill="#000"/>
<circle cx="1310.33" cy="896.27" r="4.85" fill="#000"/>
<circle cx="1436.58" cy="673.77" r="4.85" fill="#000"/>
<circle cx="1436.58" cy="773.54" r="4.85" fill="#000"/>
<circle cx="1436.58" cy="822.32" r="4.85" fill="#000"/>
<circle cx="1442.32" cy="854.11" r="4.85" fill="#000"/>
<circle cx="1407.89" cy="862.50" r="4.85" fill="#000"/>
<circle cx="1465.28" cy="864.26" r="4.85" fill="#000"/>
<circle cx="1431.07" cy="866.03" r="4.85" fill="#000"/>
<circle cx="1453.80" cy="868.68" r="4.85" fill="#000"/>
<circle cx="1419.37" cy="871.33" r="4.85" fill="#000"/>
<circle cx="1442.32" cy="872.21" r="4.85" fill="#000"/>
<circle cx="1407.89" cy="876.18" r="4.85" fill="#000"/>
<circle cx="1465.28" cy="875.74" r="4.85" fill="#000"/>
<circle cx="1453.80" cy="880.60" r="4.85" fill="#000"/>
<circle cx="1419.37" cy="885.01" r="4.85" fill="#000"/>
<circle cx="1442.32" cy="885.01" r="4.85" fill="#000"/>
<circle cx="1407.89" cy="887.22" r="4.85" fill="#000"/>
<circle cx="1465.28" cy="886.78" r="4.85" fill="#000"/>
<circle cx="1431.07" cy="892.07" r="4.85" fill="#000"/>
<circle cx="1442.32" cy="902.67" r="4.85" fill="#000"/>
<circle cx="1431.07" cy="906.42" r="4.85" fill="#000"/>
<circle cx="1442.32" cy="920.77" r="4.85" fill="#000"/>
<circle cx="1431.07" cy="922.09" r="4.85" fill="#000"/>
<circle cx="1553.57" cy="796.06" r="4.85" fill="#000"/>
<circle cx="1534.37" cy="803.56" r="4.85" fill="#000"/>
<circle cx="1544.30" cy="815.48" r="4.85" fill="#000"/>
<circle cx="1553.57" cy="836.45" r="4.85" fill="#000"/>
<circle cx="1534.37" cy="841.09" r="4.85" fill="#000"/>
<circle cx="1544.30" cy="857.64" r="4.85" fill="#000"/>
<circle cx="1544.30" cy="871.77" r="4.85" fill="#000"/>
<circle cx="1524.88" cy="875.08" r="4.85" fill="#000"/>
<circle cx="1563.51" cy="877.51" r="4.85" fill="#000"/>
<circle cx="1544.30" cy="883.25" r="4.85" fill="#000"/>
<circle cx="1544.30" cy="910.17" r="4.85" fill="#000"/>
<circle cx="1651.36" cy="810.18" r="4.85" fill="#000"/>
<circle cx="1651.36" cy="835.57" r="4.85" fill="#000"/>
<circle cx="1651.36" cy="848.15" r="4.85" fill="#000"/>
<circle cx="1641.86" cy="862.94" r="4.85" fill="#000"/>
<circle cx="1660.85" cy="864.70" r="4.85" fill="#000"/>
<circle cx="1651.36" cy="878.61" r="4.85" fill="#000"/>
<circle cx="1632.37" cy="888.54" r="4.85" fill="#000"/>
<circle cx="1670.56" cy="889.43" r="4.85" fill="#000"/>
<circle cx="1651.36" cy="897.37" r="4.85" fill="#000"/>
<circle cx="1632.37" cy="900.46" r="4.85" fill="#000"/>
<circle cx="1670.56" cy="900.46" r="4.85" fill="#000"/>
<text x="1329.85" y="964.60" font-size="26" text-anchor="middle" fill="#000">Young</text>
<text x="1329.85" y="993.60" font-size="26" text-anchor="middle" fill="#000">3 MO</text>
<text x="1436.80" y="964.60" font-size="26" text-anchor="middle" fill="#000">Old</text>
<text x="1436.80" y="993.60" font-size="26" text-anchor="middle" fill="#000">21 MO</text>
<text x="1544.40" y="964.60" font-size="26" text-anchor="middle" fill="#000">Ctrl</text>
<text x="1544.40" y="993.60" font-size="26" text-anchor="middle" fill="#000">6.5 MO</text>
<text x="1651.45" y="964.60" font-size="26" text-anchor="middle" fill="#000">3xDR</text>
<text x="1651.45" y="993.60" font-size="26" text-anchor="middle" fill="#000">6.5 MO</text>
<text x="1179.20" y="775.00" font-size="29.4" text-anchor="middle" fill="#000" transform="rotate(-90 1179.20 775.00)">Time spent in center zone (s)</text>
<text transform="translate(1490.60 600.20) scale(0.93 1)" x="0" y="0" font-size="31.4" text-anchor="middle" fill="#000">P = 0.7168</text>
<line x1="1292.00" y1="614.90" x2="1688.70" y2="614.90" stroke="#000" stroke-width="2.2" stroke-linecap="butt"/>
<rect x="88.10" y="1066.20" width="650.50" height="230.30" fill="#fff" stroke="#262626" stroke-width="3.4"/>
<line x1="300.80" y1="1066.20" x2="300.80" y2="1099.10" stroke="#222" stroke-width="1.4" stroke-linecap="butt"/>
<line x1="300.80" y1="1256.50" x2="300.80" y2="1296.50" stroke="#222" stroke-width="1.4" stroke-linecap="butt"/>
<line x1="304.50" y1="1066.20" x2="304.50" y2="1099.10" stroke="#222" stroke-width="1.4" stroke-linecap="butt"/>
<line x1="304.50" y1="1256.50" x2="304.50" y2="1296.50" stroke="#222" stroke-width="1.4" stroke-linecap="butt"/>
<line x1="511.30" y1="1066.20" x2="511.30" y2="1099.10" stroke="#222" stroke-width="1.4" stroke-linecap="butt"/>
<line x1="511.30" y1="1256.50" x2="511.30" y2="1296.50" stroke="#222" stroke-width="1.4" stroke-linecap="butt"/>
<line x1="515.00" y1="1066.20" x2="515.00" y2="1099.10" stroke="#222" stroke-width="1.4" stroke-linecap="butt"/>
<line x1="515.00" y1="1256.50" x2="515.00" y2="1296.50" stroke="#222" stroke-width="1.4" stroke-linecap="butt"/>
<circle cx="195.00" cy="1175.40" r="71" fill="#eeeeee" stroke="#000" stroke-width="4.0" stroke-dasharray="7.7 7.17" stroke-dashoffset="3.8"/>
<circle cx="622.50" cy="1175.40" r="71" fill="#eeeeee" stroke="#000" stroke-width="4.0" stroke-dasharray="7.7 7.17" stroke-dashoffset="3.8"/>
<text x="193.20" y="1050.30" font-size="36.7" text-anchor="middle" fill="#000">Stranger 1</text>
<text x="622.00" y="1050.30" font-size="36.7" text-anchor="middle" fill="#000">Empty</text>
<g transform="translate(165.50 1153.80) scale(0.06203) translate(-330 -400)">
<path d="M925.00 880.00C937.50 882.83 975.00 879.50 1000.00 897.00C1025.00 914.50 1054.17 951.17 1075.00 985.00C1095.83 1018.83 1108.33 1064.17 1125.00 1100.00C1141.67 1135.83 1153.33 1169.17 1175.00 1200.00C1196.67 1230.83 1223.83 1263.33 1255.00 1285.00C1286.17 1306.67 1344.17 1322.50 1362.00 1330.00L1362.00 1330.00C1342.17 1326.00 1277.50 1324.33 1243.00 1306.00C1208.50 1287.67 1178.50 1253.00 1155.00 1220.00C1131.50 1187.00 1119.17 1145.00 1102.00 1108.00C1084.83 1071.00 1070.67 1028.50 1052.00 998.00C1033.33 967.50 1009.50 939.33 990.00 925.00C970.50 910.67 944.17 914.17 935.00 912.00Z" fill="#8a5a60" stroke="#2a1014" stroke-width="11" stroke-linejoin="round"/>
<path d="M330.00 405.00C339.67 394.17 376.67 388.33 400.00 385.00C423.33 381.67 446.67 381.67 470.00 385.00C493.33 388.33 518.33 402.50 540.00 405.00C561.67 407.50 583.33 395.83 600.00 400.00C616.67 404.17 632.50 417.00 640.00 430.00C647.50 443.00 635.00 464.67 645.00 478.00C655.00 491.33 674.17 496.33 700.00 510.00C725.83 523.67 766.67 540.00 800.00 560.00C833.33 580.00 873.33 605.00 900.00 630.00C926.67 655.00 946.33 681.67 960.00 710.00C973.67 738.33 980.33 774.17 982.00 800.00C983.67 825.83 977.00 845.00 970.00 865.00C963.00 885.00 953.33 903.33 940.00 920.00C926.67 936.67 908.33 954.17 890.00 965.00C871.67 975.83 851.67 983.33 830.00 985.00C808.33 986.67 785.00 983.33 760.00 975.00C735.00 966.67 706.67 954.17 680.00 935.00C653.33 915.83 623.33 887.50 600.00 860.00C576.67 832.50 560.00 798.33 540.00 770.00C520.00 741.67 498.00 709.67 480.00 690.00C462.00 670.33 448.33 651.17 432.00 652.00C415.67 652.83 392.00 697.00 382.00 695.00C372.00 693.00 372.00 660.83 372.00 640.00C372.00 619.17 383.00 593.33 382.00 570.00C381.00 546.67 372.67 520.00 366.00 500.00C359.33 480.00 348.00 465.83 342.00 450.00C336.00 434.17 320.33 415.83 330.00 405.00Z" fill="#a88c78" stroke="#150c08" stroke-width="14" stroke-linejoin="round"/>
<ellipse cx="440" cy="436" rx="21" ry="12" transform="rotate(35 440 436)" fill="#1a1010"/>
<ellipse cx="390" cy="486" rx="20" ry="12" transform="rotate(60 390 486)" fill="#1a1010"/>
<path d="M335 405L282 470M335 410L305 495M345 400L300 440M375 392L368 330M385 390L410 328M392 392L432 352M350 395L330 380" fill="none" stroke="#333" stroke-width="8" stroke-linecap="round"/>
<path d="M330 395l40 -10l10 40l-35 15z" fill="#333"/>
</g>
<g transform="translate(378.10 1153.80) scale(0.06203) translate(-330 -400)">
<path d="M925.00 880.00C937.50 882.83 975.00 879.50 1000.00 897.00C1025.00 914.50 1054.17 951.17 1075.00 985.00C1095.83 1018.83 1108.33 1064.17 1125.00 1100.00C1141.67 1135.83 1153.33 1169.17 1175.00 1200.00C1196.67 1230.83 1223.83 1263.33 1255.00 1285.00C1286.17 1306.67 1344.17 1322.50 1362.00 1330.00L1362.00 1330.00C1342.17 1326.00 1277.50 1324.33 1243.00 1306.00C1208.50 1287.67 1178.50 1253.00 1155.00 1220.00C1131.50 1187.00 1119.17 1145.00 1102.00 1108.00C1084.83 1071.00 1070.67 1028.50 1052.00 998.00C1033.33 967.50 1009.50 939.33 990.00 925.00C970.50 910.67 944.17 914.17 935.00 912.00Z" fill="#8a5a60" stroke="#2a1014" stroke-width="11" stroke-linejoin="round"/>
<path d="M330.00 405.00C339.67 394.17 376.67 388.33 400.00 385.00C423.33 381.67 446.67 381.67 470.00 385.00C493.33 388.33 518.33 402.50 540.00 405.00C561.67 407.50 583.33 395.83 600.00 400.00C616.67 404.17 632.50 417.00 640.00 430.00C647.50 443.00 635.00 464.67 645.00 478.00C655.00 491.33 674.17 496.33 700.00 510.00C725.83 523.67 766.67 540.00 800.00 560.00C833.33 580.00 873.33 605.00 900.00 630.00C926.67 655.00 946.33 681.67 960.00 710.00C973.67 738.33 980.33 774.17 982.00 800.00C983.67 825.83 977.00 845.00 970.00 865.00C963.00 885.00 953.33 903.33 940.00 920.00C926.67 936.67 908.33 954.17 890.00 965.00C871.67 975.83 851.67 983.33 830.00 985.00C808.33 986.67 785.00 983.33 760.00 975.00C735.00 966.67 706.67 954.17 680.00 935.00C653.33 915.83 623.33 887.50 600.00 860.00C576.67 832.50 560.00 798.33 540.00 770.00C520.00 741.67 498.00 709.67 480.00 690.00C462.00 670.33 448.33 651.17 432.00 652.00C415.67 652.83 392.00 697.00 382.00 695.00C372.00 693.00 372.00 660.83 372.00 640.00C372.00 619.17 383.00 593.33 382.00 570.00C381.00 546.67 372.67 520.00 366.00 500.00C359.33 480.00 348.00 465.83 342.00 450.00C336.00 434.17 320.33 415.83 330.00 405.00Z" fill="#a88c78" stroke="#150c08" stroke-width="14" stroke-linejoin="round"/>
<ellipse cx="440" cy="436" rx="21" ry="12" transform="rotate(35 440 436)" fill="#1a1010"/>
<ellipse cx="390" cy="486" rx="20" ry="12" transform="rotate(60 390 486)" fill="#1a1010"/>
<path d="M335 405L282 470M335 410L305 495M345 400L300 440M375 392L368 330M385 390L410 328M392 392L432 352M350 395L330 380" fill="none" stroke="#333" stroke-width="8" stroke-linecap="round"/>
<path d="M330 395l40 -10l10 40l-35 15z" fill="#333"/>
</g>
<text x="30.00" y="1175.40" font-size="37" text-anchor="middle" fill="#000" transform="rotate(-90 30.00 1175.40)">Phase I</text>
<text x="68.00" y="1175.40" font-size="37" text-anchor="middle" fill="#000" transform="rotate(-90 68.00 1175.40)">sociability</text>
<rect x="88.10" y="1380.20" width="650.50" height="230.30" fill="#fff" stroke="#262626" stroke-width="3.4"/>
<line x1="300.80" y1="1380.20" x2="300.80" y2="1413.10" stroke="#222" stroke-width="1.4" stroke-linecap="butt"/>
<line x1="300.80" y1="1570.50" x2="300.80" y2="1610.50" stroke="#222" stroke-width="1.4" stroke-linecap="butt"/>
<line x1="304.50" y1="1380.20" x2="304.50" y2="1413.10" stroke="#222" stroke-width="1.4" stroke-linecap="butt"/>
<line x1="304.50" y1="1570.50" x2="304.50" y2="1610.50" stroke="#222" stroke-width="1.4" stroke-linecap="butt"/>
<line x1="511.30" y1="1380.20" x2="511.30" y2="1413.10" stroke="#222" stroke-width="1.4" stroke-linecap="butt"/>
<line x1="511.30" y1="1570.50" x2="511.30" y2="1610.50" stroke="#222" stroke-width="1.4" stroke-linecap="butt"/>
<line x1="515.00" y1="1380.20" x2="515.00" y2="1413.10" stroke="#222" stroke-width="1.4" stroke-linecap="butt"/>
<line x1="515.00" y1="1570.50" x2="515.00" y2="1610.50" stroke="#222" stroke-width="1.4" stroke-linecap="butt"/>
<circle cx="195.00" cy="1495.00" r="71" fill="#eeeeee" stroke="#000" stroke-width="4.0" stroke-dasharray="7.7 7.17" stroke-dashoffset="3.8"/>
<circle cx="622.50" cy="1495.00" r="71" fill="#eeeeee" stroke="#000" stroke-width="4.0" stroke-dasharray="7.7 7.17" stroke-dashoffset="3.8"/>
<text x="193.20" y="1363.60" font-size="36.7" text-anchor="middle" fill="#000">Stranger 1</text>
<text x="622.00" y="1363.60" font-size="36.7" text-anchor="middle" fill="#000">Stranger 2</text>
<g transform="translate(165.50 1470.00) scale(0.06203) translate(-330 -400)">
<path d="M925.00 880.00C937.50 882.83 975.00 879.50 1000.00 897.00C1025.00 914.50 1054.17 951.17 1075.00 985.00C1095.83 1018.83 1108.33 1064.17 1125.00 1100.00C1141.67 1135.83 1153.33 1169.17 1175.00 1200.00C1196.67 1230.83 1223.83 1263.33 1255.00 1285.00C1286.17 1306.67 1344.17 1322.50 1362.00 1330.00L1362.00 1330.00C1342.17 1326.00 1277.50 1324.33 1243.00 1306.00C1208.50 1287.67 1178.50 1253.00 1155.00 1220.00C1131.50 1187.00 1119.17 1145.00 1102.00 1108.00C1084.83 1071.00 1070.67 1028.50 1052.00 998.00C1033.33 967.50 1009.50 939.33 990.00 925.00C970.50 910.67 944.17 914.17 935.00 912.00Z" fill="#8a5a60" stroke="#2a1014" stroke-width="11" stroke-linejoin="round"/>
<path d="M330.00 405.00C339.67 394.17 376.67 388.33 400.00 385.00C423.33 381.67 446.67 381.67 470.00 385.00C493.33 388.33 518.33 402.50 540.00 405.00C561.67 407.50 583.33 395.83 600.00 400.00C616.67 404.17 632.50 417.00 640.00 430.00C647.50 443.00 635.00 464.67 645.00 478.00C655.00 491.33 674.17 496.33 700.00 510.00C725.83 523.67 766.67 540.00 800.00 560.00C833.33 580.00 873.33 605.00 900.00 630.00C926.67 655.00 946.33 681.67 960.00 710.00C973.67 738.33 980.33 774.17 982.00 800.00C983.67 825.83 977.00 845.00 970.00 865.00C963.00 885.00 953.33 903.33 940.00 920.00C926.67 936.67 908.33 954.17 890.00 965.00C871.67 975.83 851.67 983.33 830.00 985.00C808.33 986.67 785.00 983.33 760.00 975.00C735.00 966.67 706.67 954.17 680.00 935.00C653.33 915.83 623.33 887.50 600.00 860.00C576.67 832.50 560.00 798.33 540.00 770.00C520.00 741.67 498.00 709.67 480.00 690.00C462.00 670.33 448.33 651.17 432.00 652.00C415.67 652.83 392.00 697.00 382.00 695.00C372.00 693.00 372.00 660.83 372.00 640.00C372.00 619.17 383.00 593.33 382.00 570.00C381.00 546.67 372.67 520.00 366.00 500.00C359.33 480.00 348.00 465.83 342.00 450.00C336.00 434.17 320.33 415.83 330.00 405.00Z" fill="#a88c78" stroke="#150c08" stroke-width="14" stroke-linejoin="round"/>
<ellipse cx="440" cy="436" rx="21" ry="12" transform="rotate(35 440 436)" fill="#1a1010"/>
<ellipse cx="390" cy="486" rx="20" ry="12" transform="rotate(60 390 486)" fill="#1a1010"/>
<path d="M335 405L282 470M335 410L305 495M345 400L300 440M375 392L368 330M385 390L410 328M392 392L432 352M350 395L330 380" fill="none" stroke="#333" stroke-width="8" stroke-linecap="round"/>
<path d="M330 395l40 -10l10 40l-35 15z" fill="#333"/>
</g>
<g transform="translate(378.10 1470.00) scale(0.06203) translate(-330 -400)">
<path d="M925.00 880.00C937.50 882.83 975.00 879.50 1000.00 897.00C1025.00 914.50 1054.17 951.17 1075.00 985.00C1095.83 1018.83 1108.33 1064.17 1125.00 1100.00C1141.67 1135.83 1153.33 1169.17 1175.00 1200.00C1196.67 1230.83 1223.83 1263.33 1255.00 1285.00C1286.17 1306.67 1344.17 1322.50 1362.00 1330.00L1362.00 1330.00C1342.17 1326.00 1277.50 1324.33 1243.00 1306.00C1208.50 1287.67 1178.50 1253.00 1155.00 1220.00C1131.50 1187.00 1119.17 1145.00 1102.00 1108.00C1084.83 1071.00 1070.67 1028.50 1052.00 998.00C1033.33 967.50 1009.50 939.33 990.00 925.00C970.50 910.67 944.17 914.17 935.00 912.00Z" fill="#8a5a60" stroke="#2a1014" stroke-width="11" stroke-linejoin="round"/>
<path d="M330.00 405.00C339.67 394.17 376.67 388.33 400.00 385.00C423.33 381.67 446.67 381.67 470.00 385.00C493.33 388.33 518.33 402.50 540.00 405.00C561.67 407.50 583.33 395.83 600.00 400.00C616.67 404.17 632.50 417.00 640.00 430.00C647.50 443.00 635.00 464.67 645.00 478.00C655.00 491.33 674.17 496.33 700.00 510.00C725.83 523.67 766.67 540.00 800.00 560.00C833.33 580.00 873.33 605.00 900.00 630.00C926.67 655.00 946.33 681.67 960.00 710.00C973.67 738.33 980.33 774.17 982.00 800.00C983.67 825.83 977.00 845.00 970.00 865.00C963.00 885.00 953.33 903.33 940.00 920.00C926.67 936.67 908.33 954.17 890.00 965.00C871.67 975.83 851.67 983.33 830.00 985.00C808.33 986.67 785.00 983.33 760.00 975.00C735.00 966.67 706.67 954.17 680.00 935.00C653.33 915.83 623.33 887.50 600.00 860.00C576.67 832.50 560.00 798.33 540.00 770.00C520.00 741.67 498.00 709.67 480.00 690.00C462.00 670.33 448.33 651.17 432.00 652.00C415.67 652.83 392.00 697.00 382.00 695.00C372.00 693.00 372.00 660.83 372.00 640.00C372.00 619.17 383.00 593.33 382.00 570.00C381.00 546.67 372.67 520.00 366.00 500.00C359.33 480.00 348.00 465.83 342.00 450.00C336.00 434.17 320.33 415.83 330.00 405.00Z" fill="#a88c78" stroke="#150c08" stroke-width="14" stroke-linejoin="round"/>
<ellipse cx="440" cy="436" rx="21" ry="12" transform="rotate(35 440 436)" fill="#1a1010"/>
<ellipse cx="390" cy="486" rx="20" ry="12" transform="rotate(60 390 486)" fill="#1a1010"/>
<path d="M335 405L282 470M335 410L305 495M345 400L300 440M375 392L368 330M385 390L410 328M392 392L432 352M350 395L330 380" fill="none" stroke="#333" stroke-width="8" stroke-linecap="round"/>
<path d="M330 395l40 -10l10 40l-35 15z" fill="#333"/>
</g>
<g transform="translate(600.40 1470.00) scale(0.06203) translate(-330 -400)">
<path d="M925.00 880.00C937.50 882.83 975.00 879.50 1000.00 897.00C1025.00 914.50 1054.17 951.17 1075.00 985.00C1095.83 1018.83 1108.33 1064.17 1125.00 1100.00C1141.67 1135.83 1153.33 1169.17 1175.00 1200.00C1196.67 1230.83 1223.83 1263.33 1255.00 1285.00C1286.17 1306.67 1344.17 1322.50 1362.00 1330.00L1362.00 1330.00C1342.17 1326.00 1277.50 1324.33 1243.00 1306.00C1208.50 1287.67 1178.50 1253.00 1155.00 1220.00C1131.50 1187.00 1119.17 1145.00 1102.00 1108.00C1084.83 1071.00 1070.67 1028.50 1052.00 998.00C1033.33 967.50 1009.50 939.33 990.00 925.00C970.50 910.67 944.17 914.17 935.00 912.00Z" fill="#8a5a60" stroke="#2a1014" stroke-width="11" stroke-linejoin="round"/>
<path d="M330.00 405.00C339.67 394.17 376.67 388.33 400.00 385.00C423.33 381.67 446.67 381.67 470.00 385.00C493.33 388.33 518.33 402.50 540.00 405.00C561.67 407.50 583.33 395.83 600.00 400.00C616.67 404.17 632.50 417.00 640.00 430.00C647.50 443.00 635.00 464.67 645.00 478.00C655.00 491.33 674.17 496.33 700.00 510.00C725.83 523.67 766.67 540.00 800.00 560.00C833.33 580.00 873.33 605.00 900.00 630.00C926.67 655.00 946.33 681.67 960.00 710.00C973.67 738.33 980.33 774.17 982.00 800.00C983.67 825.83 977.00 845.00 970.00 865.00C963.00 885.00 953.33 903.33 940.00 920.00C926.67 936.67 908.33 954.17 890.00 965.00C871.67 975.83 851.67 983.33 830.00 985.00C808.33 986.67 785.00 983.33 760.00 975.00C735.00 966.67 706.67 954.17 680.00 935.00C653.33 915.83 623.33 887.50 600.00 860.00C576.67 832.50 560.00 798.33 540.00 770.00C520.00 741.67 498.00 709.67 480.00 690.00C462.00 670.33 448.33 651.17 432.00 652.00C415.67 652.83 392.00 697.00 382.00 695.00C372.00 693.00 372.00 660.83 372.00 640.00C372.00 619.17 383.00 593.33 382.00 570.00C381.00 546.67 372.67 520.00 366.00 500.00C359.33 480.00 348.00 465.83 342.00 450.00C336.00 434.17 320.33 415.83 330.00 405.00Z" fill="#a88c78" stroke="#150c08" stroke-width="14" stroke-linejoin="round"/>
<ellipse cx="440" cy="436" rx="21" ry="12" transform="rotate(35 440 436)" fill="#1a1010"/>
<ellipse cx="390" cy="486" rx="20" ry="12" transform="rotate(60 390 486)" fill="#1a1010"/>
<path d="M335 405L282 470M335 410L305 495M345 400L300 440M375 392L368 330M385 390L410 328M392 392L432 352M350 395L330 380" fill="none" stroke="#333" stroke-width="8" stroke-linecap="round"/>
<path d="M330 395l40 -10l10 40l-35 15z" fill="#333"/>
</g>
<text x="30.00" y="1495.00" font-size="37" text-anchor="middle" fill="#000" transform="rotate(-90 30.00 1495.00)">Phase II</text>
<text x="68.00" y="1495.00" font-size="37" text-anchor="middle" fill="#000" transform="rotate(-90 68.00 1495.00)">social novelty</text>
<path d="M924.80 1154.85V1485.90H1417.30" fill="none" stroke="#000" stroke-width="4.5"/>
<line x1="908.80" y1="1157.10" x2="924.80" y2="1157.10" stroke="#000" stroke-width="4.5" stroke-linecap="butt"/>
<text x="908.40" y="1165.60" font-size="26" text-anchor="end" fill="#000">200</text>
<line x1="908.80" y1="1239.30" x2="924.80" y2="1239.30" stroke="#000" stroke-width="4.5" stroke-linecap="butt"/>
<text x="908.40" y="1247.80" font-size="26" text-anchor="end" fill="#000">150</text>
<line x1="908.80" y1="1321.50" x2="924.80" y2="1321.50" stroke="#000" stroke-width="4.5" stroke-linecap="butt"/>
<text x="908.40" y="1330.00" font-size="26" text-anchor="end" fill="#000">100</text>
<line x1="908.80" y1="1403.70" x2="924.80" y2="1403.70" stroke="#000" stroke-width="4.5" stroke-linecap="butt"/>
<text x="908.40" y="1412.20" font-size="26" text-anchor="end" fill="#000">50</text>
<line x1="908.80" y1="1485.90" x2="924.80" y2="1485.90" stroke="#000" stroke-width="4.5" stroke-linecap="butt"/>
<text x="908.40" y="1494.40" font-size="26" text-anchor="end" fill="#000">0</text>
<line x1="995.15" y1="1241.30" x2="995.15" y2="1298.50" stroke="#115a96" stroke-width="3.9" stroke-linecap="butt"/>
<line x1="977.75" y1="1241.30" x2="1012.55" y2="1241.30" stroke="#115a96" stroke-width="3.9" stroke-linecap="round"/>
<rect x="963.50" y="1298.50" width="63.30" height="187.40" fill="#d9e5f0" stroke="#115a96" stroke-width="4.0"/>
<line x1="995.15" y1="1485.90" x2="995.15" y2="1501.40" stroke="#000" stroke-width="4.5" stroke-linecap="butt"/>
<text transform="translate(995.15 1529.30) scale(1.07 1)" x="0" y="0" font-size="28" text-anchor="middle" fill="#000">Ctrl</text>
<line x1="1100.95" y1="1270.90" x2="1100.95" y2="1320.10" stroke="#7b2a9c" stroke-width="3.9" stroke-linecap="butt"/>
<line x1="1083.55" y1="1270.90" x2="1118.35" y2="1270.90" stroke="#7b2a9c" stroke-width="3.9" stroke-linecap="round"/>
<rect x="1069.30" y="1320.10" width="63.30" height="165.80" fill="#ebdcf1" stroke="#7b2a9c" stroke-width="4.0"/>
<line x1="1100.95" y1="1485.90" x2="1100.95" y2="1501.40" stroke="#000" stroke-width="4.5" stroke-linecap="butt"/>
<text transform="translate(1100.95 1529.30) scale(1.07 1)" x="0" y="0" font-size="28" text-anchor="middle" fill="#000">3xDR</text>
<line x1="1241.35" y1="1378.90" x2="1241.35" y2="1401.10" stroke="#115a96" stroke-width="3.9" stroke-linecap="butt"/>
<line x1="1223.95" y1="1378.90" x2="1258.75" y2="1378.90" stroke="#115a96" stroke-width="3.9" stroke-linecap="round"/>
<rect x="1209.70" y="1401.10" width="63.30" height="84.80" fill="#d9e5f0" stroke="#115a96" stroke-width="4.0"/>
<line x1="1241.35" y1="1485.90" x2="1241.35" y2="1501.40" stroke="#000" stroke-width="4.5" stroke-linecap="butt"/>
<text transform="translate(1241.35 1529.30) scale(1.07 1)" x="0" y="0" font-size="28" text-anchor="middle" fill="#000">Ctrl</text>
<line x1="1347.10" y1="1404.30" x2="1347.10" y2="1440.80" stroke="#7b2a9c" stroke-width="3.9" stroke-linecap="butt"/>
<line x1="1329.70" y1="1404.30" x2="1364.50" y2="1404.30" stroke="#7b2a9c" stroke-width="3.9" stroke-linecap="round"/>
<rect x="1315.40" y="1440.80" width="63.40" height="45.10" fill="#ebdcf1" stroke="#7b2a9c" stroke-width="4.0"/>
<line x1="1347.10" y1="1485.90" x2="1347.10" y2="1501.40" stroke="#000" stroke-width="4.5" stroke-linecap="butt"/>
<text transform="translate(1347.10 1529.30) scale(1.07 1)" x="0" y="0" font-size="28" text-anchor="middle" fill="#000">3xDR</text>
<line x1="924.80" y1="1485.90" x2="1417.30" y2="1485.90" stroke="#000" stroke-width="4.5" stroke-linecap="butt"/>
<circle cx="1022.82" cy="1220.70" r="7.4" fill="#000"/>
<circle cx="995.50" cy="1230.22" r="7.4" fill="#000"/>
<circle cx="995.50" cy="1266.75" r="7.4" fill="#000"/>
<circle cx="995.50" cy="1296.29" r="7.4" fill="#000"/>
<circle cx="967.87" cy="1316.94" r="7.4" fill="#000"/>
<circle cx="1023.45" cy="1324.88" r="7.4" fill="#000"/>
<circle cx="995.50" cy="1330.28" r="7.4" fill="#000"/>
<circle cx="995.50" cy="1384.91" r="7.4" fill="#000"/>
<circle cx="1100.63" cy="1235.62" r="7.4" fill="#000"/>
<circle cx="1100.63" cy="1274.06" r="7.4" fill="#000"/>
<circle cx="1100.63" cy="1324.56" r="7.4" fill="#000"/>
<circle cx="1073.64" cy="1332.82" r="7.4" fill="#000"/>
<circle cx="1128.90" cy="1334.40" r="7.4" fill="#000"/>
<circle cx="1100.63" cy="1354.10" r="7.4" fill="#000"/>
<circle cx="1100.63" cy="1370.61" r="7.4" fill="#000"/>
<circle cx="1214.02" cy="1370.93" r="7.4" fill="#000"/>
<circle cx="1214.02" cy="1392.21" r="7.4" fill="#000"/>
<circle cx="1231.49" cy="1387.45" r="7.4" fill="#000"/>
<circle cx="1250.55" cy="1387.45" r="7.4" fill="#000"/>
<circle cx="1268.97" cy="1400.15" r="7.4" fill="#000"/>
<circle cx="1231.49" cy="1404.92" r="7.4" fill="#000"/>
<circle cx="1250.55" cy="1408.73" r="7.4" fill="#000"/>
<circle cx="1241.02" cy="1437.63" r="7.4" fill="#000"/>
<circle cx="1346.47" cy="1377.28" r="7.4" fill="#000"/>
<circle cx="1346.47" cy="1414.45" r="7.4" fill="#000"/>
<circle cx="1346.47" cy="1437.63" r="7.4" fill="#000"/>
<circle cx="1319.48" cy="1446.84" r="7.4" fill="#000"/>
<circle cx="1373.79" cy="1451.61" r="7.4" fill="#000"/>
<circle cx="1346.47" cy="1456.37" r="7.4" fill="#000"/>
<circle cx="1346.47" cy="1485.91" r="7.4" fill="#000"/>
<text transform="translate(845.20 1321.40) rotate(-90) scale(0.832 1)" x="0" y="0" font-size="35" text-anchor="middle" fill="#000">Sniff time in Phase I (s)</text>
<text x="1048.30" y="1176.00" font-size="28.3" text-anchor="middle" fill="#000">P = 0.4346</text>
<line x1="995.00" y1="1189.30" x2="1101.10" y2="1189.30" stroke="#000" stroke-width="3.2" stroke-linecap="butt"/>
<line x1="966.90" y1="1539.90" x2="1144.20" y2="1539.90" stroke="#000" stroke-width="3.3" stroke-linecap="butt"/>
<text transform="translate(1055.20 1570.30) scale(1.06 1)" x="0" y="0" font-size="28.3" text-anchor="middle" fill="#000">Stranger 1</text>
<line x1="1205.40" y1="1539.90" x2="1382.40" y2="1539.90" stroke="#000" stroke-width="3.3" stroke-linecap="butt"/>
<text transform="translate(1294.00 1570.30) scale(1.06 1)" x="0" y="0" font-size="28.3" text-anchor="middle" fill="#000">Empty</text>
<path d="M1591.10 1154.85V1485.90H2090.00" fill="none" stroke="#000" stroke-width="4.5"/>
<line x1="1575.10" y1="1157.10" x2="1591.10" y2="1157.10" stroke="#000" stroke-width="4.5" stroke-linecap="butt"/>
<text x="1574.70" y="1165.60" font-size="26" text-anchor="end" fill="#000">200</text>
<line x1="1575.10" y1="1239.30" x2="1591.10" y2="1239.30" stroke="#000" stroke-width="4.5" stroke-linecap="butt"/>
<text x="1574.70" y="1247.80" font-size="26" text-anchor="end" fill="#000">150</text>
<line x1="1575.10" y1="1321.50" x2="1591.10" y2="1321.50" stroke="#000" stroke-width="4.5" stroke-linecap="butt"/>
<text x="1574.70" y="1330.00" font-size="26" text-anchor="end" fill="#000">100</text>
<line x1="1575.10" y1="1403.70" x2="1591.10" y2="1403.70" stroke="#000" stroke-width="4.5" stroke-linecap="butt"/>
<text x="1574.70" y="1412.20" font-size="26" text-anchor="end" fill="#000">50</text>
<line x1="1575.10" y1="1485.90" x2="1591.10" y2="1485.90" stroke="#000" stroke-width="4.5" stroke-linecap="butt"/>
<text x="1574.70" y="1494.40" font-size="26" text-anchor="end" fill="#000">0</text>
<line x1="1661.25" y1="1293.10" x2="1661.25" y2="1370.60" stroke="#115a96" stroke-width="3.9" stroke-linecap="butt"/>
<line x1="1643.85" y1="1293.10" x2="1678.65" y2="1293.10" stroke="#115a96" stroke-width="3.9" stroke-linecap="round"/>
<rect x="1629.60" y="1370.60" width="63.30" height="115.30" fill="#d9e5f0" stroke="#115a96" stroke-width="4.0"/>
<line x1="1661.25" y1="1485.90" x2="1661.25" y2="1501.40" stroke="#000" stroke-width="4.5" stroke-linecap="butt"/>
<text transform="translate(1661.25 1529.30) scale(1.07 1)" x="0" y="0" font-size="28" text-anchor="middle" fill="#000">Ctrl</text>
<line x1="1767.05" y1="1282.00" x2="1767.05" y2="1374.10" stroke="#7b2a9c" stroke-width="3.9" stroke-linecap="butt"/>
<line x1="1749.65" y1="1282.00" x2="1784.45" y2="1282.00" stroke="#7b2a9c" stroke-width="3.9" stroke-linecap="round"/>
<rect x="1735.70" y="1374.10" width="62.70" height="111.80" fill="#ebdcf1" stroke="#7b2a9c" stroke-width="4.0"/>
<line x1="1767.05" y1="1485.90" x2="1767.05" y2="1501.40" stroke="#000" stroke-width="4.5" stroke-linecap="butt"/>
<text transform="translate(1767.05 1529.30) scale(1.07 1)" x="0" y="0" font-size="28" text-anchor="middle" fill="#000">3xDR</text>
<line x1="1907.05" y1="1224.80" x2="1907.05" y2="1298.50" stroke="#115a96" stroke-width="3.9" stroke-linecap="butt"/>
<line x1="1889.65" y1="1224.80" x2="1924.45" y2="1224.80" stroke="#115a96" stroke-width="3.9" stroke-linecap="round"/>
<rect x="1875.70" y="1298.50" width="62.70" height="187.40" fill="#d9e5f0" stroke="#115a96" stroke-width="4.0"/>
<line x1="1907.05" y1="1485.90" x2="1907.05" y2="1501.40" stroke="#000" stroke-width="4.5" stroke-linecap="butt"/>
<text transform="translate(1907.05 1529.30) scale(1.07 1)" x="0" y="0" font-size="28" text-anchor="middle" fill="#000">Ctrl</text>
<line x1="2013.00" y1="1242.90" x2="2013.00" y2="1300.70" stroke="#7b2a9c" stroke-width="3.9" stroke-linecap="butt"/>
<line x1="1995.60" y1="1242.90" x2="2030.40" y2="1242.90" stroke="#7b2a9c" stroke-width="3.9" stroke-linecap="round"/>
<rect x="1981.50" y="1300.70" width="63.00" height="185.20" fill="#ebdcf1" stroke="#7b2a9c" stroke-width="4.0"/>
<line x1="2013.00" y1="1485.90" x2="2013.00" y2="1501.40" stroke="#000" stroke-width="4.5" stroke-linecap="butt"/>
<text transform="translate(2013.00 1529.30) scale(1.07 1)" x="0" y="0" font-size="28" text-anchor="middle" fill="#000">3xDR</text>
<line x1="1591.10" y1="1485.90" x2="2090.00" y2="1485.90" stroke="#000" stroke-width="4.5" stroke-linecap="butt"/>
<circle cx="1688.57" cy="1257.22" r="7.4" fill="#000"/>
<circle cx="1661.57" cy="1267.39" r="7.4" fill="#000"/>
<circle cx="1688.57" cy="1353.14" r="7.4" fill="#000"/>
<circle cx="1661.57" cy="1362.04" r="7.4" fill="#000"/>
<circle cx="1661.57" cy="1383.64" r="7.4" fill="#000"/>
<circle cx="1661.57" cy="1434.14" r="7.4" fill="#000"/>
<circle cx="1688.57" cy="1438.27" r="7.4" fill="#000"/>
<circle cx="1633.94" cy="1450.02" r="7.4" fill="#000"/>
<circle cx="1766.39" cy="1176.23" r="7.4" fill="#000"/>
<circle cx="1766.39" cy="1365.21" r="7.4" fill="#000"/>
<circle cx="1766.39" cy="1385.86" r="7.4" fill="#000"/>
<circle cx="1751.46" cy="1406.50" r="7.4" fill="#000"/>
<circle cx="1782.27" cy="1406.50" r="7.4" fill="#000"/>
<circle cx="1782.27" cy="1430.33" r="7.4" fill="#000"/>
<circle cx="1751.46" cy="1436.68" r="7.4" fill="#000"/>
<circle cx="1907.09" cy="1188.93" r="7.4" fill="#000"/>
<circle cx="1907.09" cy="1217.52" r="7.4" fill="#000"/>
<circle cx="1922.97" cy="1273.10" r="7.4" fill="#000"/>
<circle cx="1891.85" cy="1277.87" r="7.4" fill="#000"/>
<circle cx="1891.85" cy="1324.56" r="7.4" fill="#000"/>
<circle cx="1922.97" cy="1321.38" r="7.4" fill="#000"/>
<circle cx="1907.09" cy="1370.93" r="7.4" fill="#000"/>
<circle cx="1907.09" cy="1396.34" r="7.4" fill="#000"/>
<circle cx="1985.54" cy="1255.63" r="7.4" fill="#000"/>
<circle cx="2012.54" cy="1249.92" r="7.4" fill="#000"/>
<circle cx="2040.18" cy="1255.00" r="7.4" fill="#000"/>
<circle cx="1998.89" cy="1303.91" r="7.4" fill="#000"/>
<circle cx="2026.84" cy="1300.74" r="7.4" fill="#000"/>
<circle cx="2012.54" cy="1319.79" r="7.4" fill="#000"/>
<circle cx="2012.54" cy="1405.55" r="7.4" fill="#000"/>
<text transform="translate(1511.20 1322.50) rotate(-90) scale(0.834 1)" x="0" y="0" font-size="35" text-anchor="middle" fill="#000">Sniff time in Phase II (s)</text>
<text x="1714.60" y="1134.30" font-size="28.3" text-anchor="middle" fill="#000">P = 0.9272</text>
<line x1="1661.60" y1="1148.60" x2="1766.40" y2="1148.60" stroke="#000" stroke-width="3.2" stroke-linecap="butt"/>
<text x="1960.10" y="1134.30" font-size="28.3" text-anchor="middle" fill="#000">P = 0.9495</text>
<line x1="1907.70" y1="1148.60" x2="2012.50" y2="1148.60" stroke="#000" stroke-width="3.2" stroke-linecap="butt"/>
<line x1="1625.70" y1="1539.90" x2="1802.90" y2="1539.90" stroke="#000" stroke-width="3.3" stroke-linecap="butt"/>
<text transform="translate(1713.00 1570.30) scale(1.06 1)" x="0" y="0" font-size="28.3" text-anchor="middle" fill="#000">Stranger 1</text>
<line x1="1871.80" y1="1539.90" x2="2048.40" y2="1539.90" stroke="#000" stroke-width="3.3" stroke-linecap="butt"/>
<text transform="translate(1960.10 1570.30) scale(1.06 1)" x="0" y="0" font-size="28.3" text-anchor="middle" fill="#000">Stranger 2</text>
</svg>
</body></html>
